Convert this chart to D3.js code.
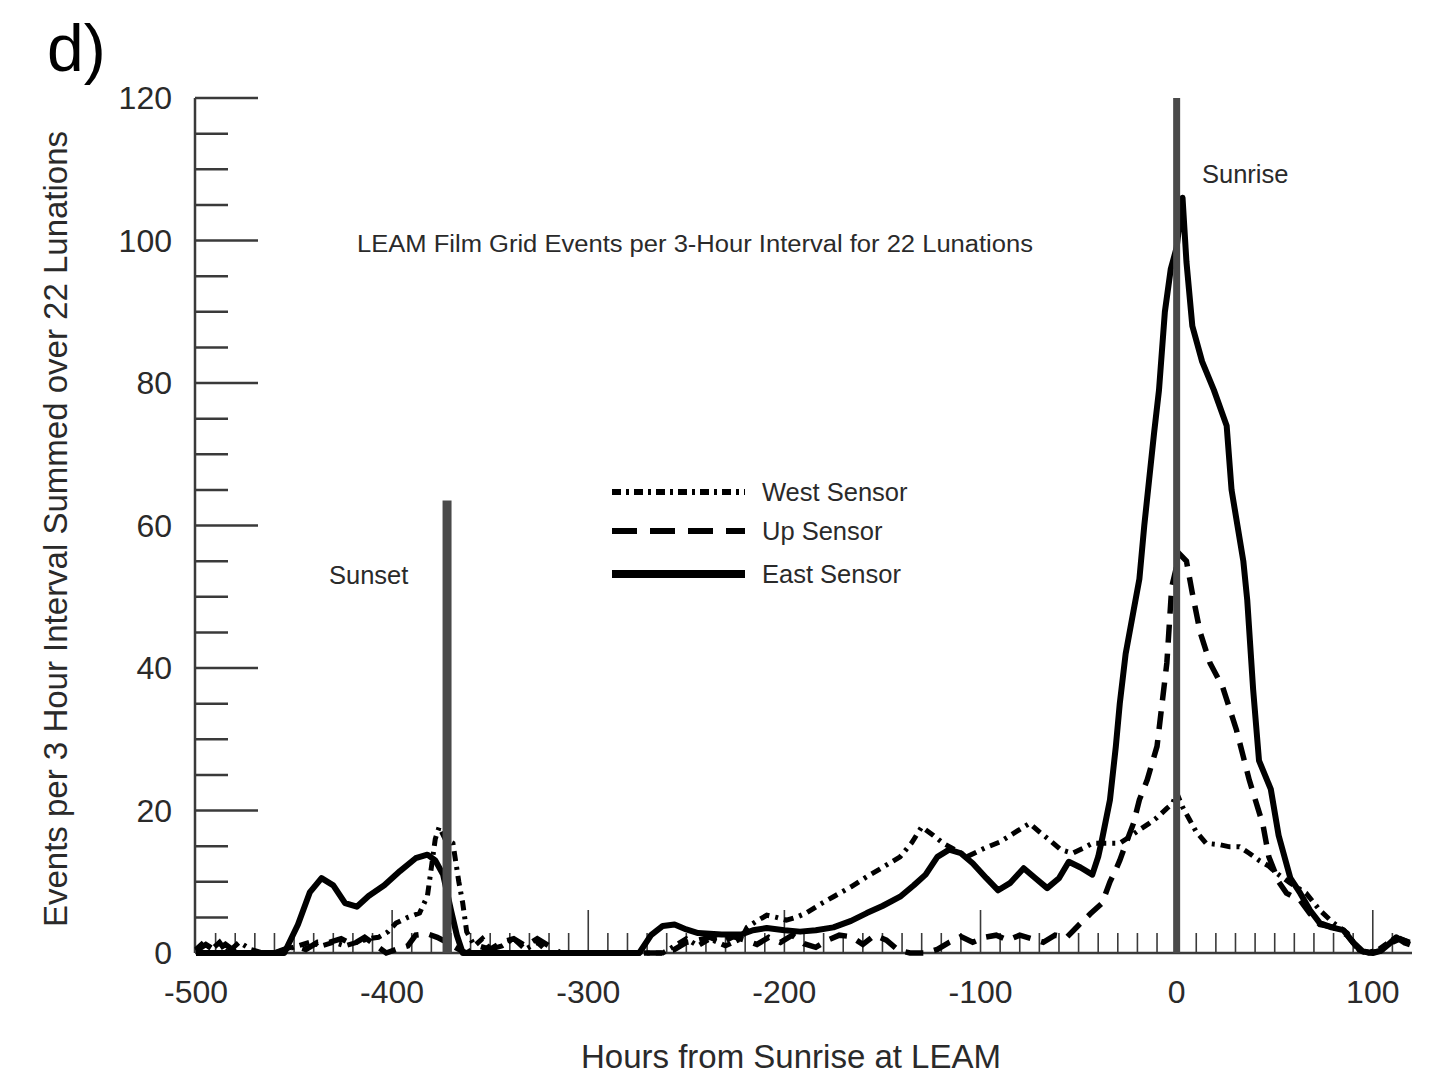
<!DOCTYPE html>
<html>
<head>
<meta charset="utf-8">
<script src="https://cdn.jsdelivr.net/npm/d3@7"></script>
<style>
  body { margin: 0; background: #fff; }
  text { font-family: "Liberation Sans", Arial, sans-serif; fill: #2a2a2a; }
</style>
</head>
<body>
<script>
const svgW = 1445;
const svgH = 1078;

// [hour, events]
const eastSensor = [[-500,0],[-455,0],[-448,4],[-442,8.5],[-436,10.5],[-430,9.5],[-424,7],[-418,6.5],[-412,8],[-404,9.5],[-396,11.5],[-388,13.3],[-382,13.8],[-378,13],[-374,11],[-370,6],[-367,2.5],[-364,0],[-274,0],[-268,2.5],[-262,3.8],[-256,4],[-250,3.3],[-244,2.8],[-232,2.6],[-222,2.6],[-216,3.2],[-209,3.5],[-200,3.2],[-192,3],[-184,3.2],[-175,3.6],[-166,4.5],[-158,5.6],[-150,6.6],[-141,7.9],[-134,9.5],[-128,11],[-122,13.5],[-116,14.5],[-110,14],[-104,12.6],[-97,10.5],[-91,8.8],[-85,9.8],[-78,11.9],[-72,10.5],[-66,9.1],[-60,10.5],[-55,12.8],[-49,12],[-43,11],[-40,13.5],[-38,16],[-34,21.5],[-31,29],[-29,35],[-26,42],[-22,48],[-19,52.5],[-16.5,60],[-14,66.5],[-11.5,73],[-9,79],[-6,90],[-3,96],[0,99],[3,106],[5,97],[8,88],[13,83],[19,79],[25.5,74],[28,65],[31,60],[34,55],[36,49.5],[39,37],[42,27],[45,25],[48,23],[52,16.5],[58,10.5],[63,8.4],[68,6],[73,4.2],[79,3.6],[85,3.2],[90,1.5],[95,0.2],[100,0],[104,0.3],[108,1.2],[112,2.2],[116,1.5],[119,1.2]];

const westSensor = [[-500,0.5],[-496,1.5],[-492,0.5],[-488,1.5],[-484,0],[-478,1.5],[-472,0.5],[-466,0],[-460,0],[-454,0.5],[-448,1],[-442,1.5],[-436,1],[-430,1.5],[-424,1],[-418,1.5],[-412,2],[-407,2.2],[-402,3],[-398,4.2],[-392,5],[-386,5.6],[-382,8],[-380,12],[-378,16],[-376,17.7],[-373,16],[-369,15.4],[-366,10],[-364,7],[-362,3],[-358,1],[-354,2],[-350,0.5],[-344,1],[-338,2],[-332,0.5],[-326,1.5],[-320,0],[-262,0],[-256,1],[-250,2],[-244,1],[-238,2],[-230,1],[-226,1.5],[-222,2],[-219,3.6],[-214,4.5],[-209,5.3],[-204,5],[-199,4.6],[-194,5],[-189,5.6],[-182,6.8],[-175,7.9],[-166,9.3],[-158,10.7],[-150,12],[-141,13.5],[-135,15.5],[-130,17.7],[-124,16.5],[-119,15.4],[-113,14.5],[-107,13.5],[-98,14.7],[-90,15.6],[-82,17],[-75,18.2],[-70,17],[-65,15.9],[-59,14.5],[-53,14],[-47,14.8],[-43,15.4],[-36,15.4],[-29,15.4],[-24,16.3],[-19,17.3],[-14,18.2],[-10,19],[-5,20.3],[-2,21],[0,22.5],[3,20.5],[6.6,18.7],[10,17],[15,15.4],[22,15.2],[27,14.9],[32,14.9],[37,14],[42,13],[47,12.2],[51,11.2],[58,9.8],[66,8.4],[73,6],[80,4.2],[87,2.8],[93,0.4],[97,0],[103,0.5],[108,1.5],[112,2.2],[116,1.8],[119,1.5]];

const upSensor = [[-500,0.3],[-495,1.2],[-490,0.3],[-485,1.2],[-480,0.2],[-474,0],[-460,0],[-455,0.5],[-450,1],[-444,0.5],[-438,1.5],[-432,1.5],[-426,2],[-420,1.2],[-414,2.2],[-408,1],[-403,0],[-398,0.5],[-392,1],[-388,2.5],[-382,2.7],[-377,2.2],[-372,1.5],[-366,0.5],[-362,0],[-356,1],[-350,0.5],[-344,1.5],[-338,2],[-332,1],[-326,2],[-320,1],[-314,0],[-262,0],[-256,0.5],[-250,1.5],[-244,1.8],[-238,2.2],[-232,1.5],[-226,2.3],[-220,1.8],[-214,1.2],[-208,2.2],[-202,1.5],[-196,2.5],[-190,1.3],[-184,0.8],[-178,1.8],[-172,2.5],[-166,2.3],[-160,1.2],[-154,2.5],[-148,1.8],[-142,0.4],[-136,0],[-128,0],[-122,0.5],[-116,1.5],[-110,2.3],[-104,1.5],[-98,2.2],[-92,2.5],[-86,1.8],[-80,2.5],[-74,2],[-68,1.5],[-62,2.5],[-56,2.2],[-50,3.9],[-44,5.5],[-38,7],[-34,10],[-31,11.7],[-29,13],[-25,16],[-22,18.2],[-19,21.5],[-15,24.3],[-10,29],[-5,40.7],[-2.5,51.4],[1.5,56],[5,55],[8,50.5],[12,45],[17,40.7],[23.5,37.3],[30.5,31.3],[37,24.3],[44,18],[47,13.5],[52,10],[56,8.4],[63,7.4],[68,5.5],[73,4],[80,3.6],[87,2.5],[93,0.4],[98,0],[104,0.3],[110,1.5],[114,2],[118,1.5]];

const xTickLabels = [-500, -400, -300, -200, -100, 0, 100];
const yTickLabels = [0, 20, 40, 60, 80, 100, 120];
const sunsetHour = -372, sunsetTop = 63.5;
const sunriseHour = 0, sunriseTop = 120;

const legendItems = [
  { name: 'West Sensor', dash: '9,5,3,5', width: 6 },
  { name: 'Up Sensor', dash: '25,13', width: 6 },
  { name: 'East Sensor', dash: null, width: 8 }
];

const svg = d3.select('body').append('svg')
  .attr('width', svgW)
  .attr('height', svgH);

const x = d3.scaleLinear().domain([-500, 120]).range([196, 1412]);
const y = d3.scaleLinear().domain([0, 120]).range([953, 98]);

const axisColor = '#3a3a3a';

// y axis: long ticks every 20, short every 5
const yAxis = svg.append('g').attr('transform', `translate(195,0)`);
yAxis.append('line').attr('x1', 0).attr('x2', 0).attr('y1', y(0)).attr('y2', y(120))
  .attr('stroke', axisColor).attr('stroke-width', 2.5);
yAxis.selectAll('line.tk').data(d3.range(5, 121, 5)).enter().append('line')
  .attr('class', 'tk')
  .attr('x1', 0)
  .attr('x2', d => d % 20 === 0 ? 63 : 33)
  .attr('y1', d => y(d)).attr('y2', d => y(d))
  .attr('stroke', axisColor).attr('stroke-width', 2.5);
yAxis.selectAll('text').data(yTickLabels).enter().append('text')
  .attr('x', -23)
  .attr('y', d => y(d) + 11)
  .attr('text-anchor', 'end')
  .attr('font-size', 32)
  .text(d => d);

// x axis: ticks pointing up every 10 h, taller every 100 h
const xAxis = svg.append('g');
xAxis.append('line').attr('x1', 195).attr('x2', x(120)).attr('y1', y(0)).attr('y2', y(0))
  .attr('stroke', axisColor).attr('stroke-width', 2.5);
xAxis.selectAll('line.tk').data(d3.range(-490, 120, 10)).enter().append('line')
  .attr('class', 'tk')
  .attr('x1', d => x(d)).attr('x2', d => x(d))
  .attr('y1', y(0))
  .attr('y2', d => y(0) - (d % 100 === 0 ? 43 : 20))
  .attr('stroke', axisColor).attr('stroke-width', 1.6);
xAxis.selectAll('text').data(xTickLabels).enter().append('text')
  .attr('x', d => x(d))
  .attr('y', 1003)
  .attr('text-anchor', 'middle')
  .attr('font-size', 32)
  .text(d => d < 0 ? '-' + Math.abs(d) : d);

// sensor curves
const line = d3.line().x(d => x(d[0])).y(d => y(d[1])).curve(d3.curveLinear);

svg.append('path').datum(upSensor)
  .attr('d', line).attr('fill', 'none').attr('stroke', '#000')
  .attr('stroke-width', 5.5).attr('stroke-dasharray', '18,11');
svg.append('path').datum(westSensor)
  .attr('d', line).attr('fill', 'none').attr('stroke', '#000')
  .attr('stroke-width', 5).attr('stroke-dasharray', '10,6,3,6');
svg.append('path').datum(eastSensor)
  .attr('d', line).attr('fill', 'none').attr('stroke', '#000')
  .attr('stroke-width', 6).attr('stroke-linejoin', 'round');

// sunset / sunrise markers
svg.append('line')
  .attr('x1', x(sunsetHour)).attr('x2', x(sunsetHour))
  .attr('y1', y(0)).attr('y2', y(sunsetTop))
  .attr('stroke', '#4a4a4a').attr('stroke-width', 9);
svg.append('line')
  .attr('x1', x(sunriseHour)).attr('x2', x(sunriseHour))
  .attr('y1', y(0)).attr('y2', y(sunriseTop))
  .attr('stroke', '#4a4a4a').attr('stroke-width', 7);

svg.append('text').attr('x', 329).attr('y', 584).attr('font-size', 25.5).text('Sunset');
svg.append('text').attr('x', 1202).attr('y', 183).attr('font-size', 25.5).text('Sunrise');

svg.append('text').attr('x', 357).attr('y', 252).attr('font-size', 23)
  .attr('textLength', 676).attr('lengthAdjust', 'spacingAndGlyphs')
  .text('LEAM Film Grid Events per 3-Hour Interval for 22 Lunations');

// legend
const legend = svg.append('g').attr('transform', 'translate(612,492)');
legendItems.forEach((it, i) => {
  const ly = [0, 39, 82][i];
  legend.append('line').attr('x1', 0).attr('x2', 133).attr('y1', ly).attr('y2', ly)
    .attr('stroke', '#000').attr('stroke-width', it.width)
    .attr('stroke-dasharray', it.dash);
  legend.append('text').attr('x', 150).attr('y', ly + 9).attr('font-size', 25.5).text(it.name);
});

// axis titles
svg.append('text').attr('x', 791).attr('y', 1068).attr('text-anchor', 'middle')
  .attr('font-size', 33).text('Hours from Sunrise at LEAM');
svg.append('text')
  .attr('transform', 'translate(67,529) rotate(-90)')
  .attr('text-anchor', 'middle').attr('font-size', 33)
  .text('Events per 3 Hour Interval Summed over 22 Lunations');

svg.append('text').attr('x', 47).attr('y', 71).attr('font-size', 66)
  .style('fill', '#000').text('d)');
</script>
</body>
</html>
